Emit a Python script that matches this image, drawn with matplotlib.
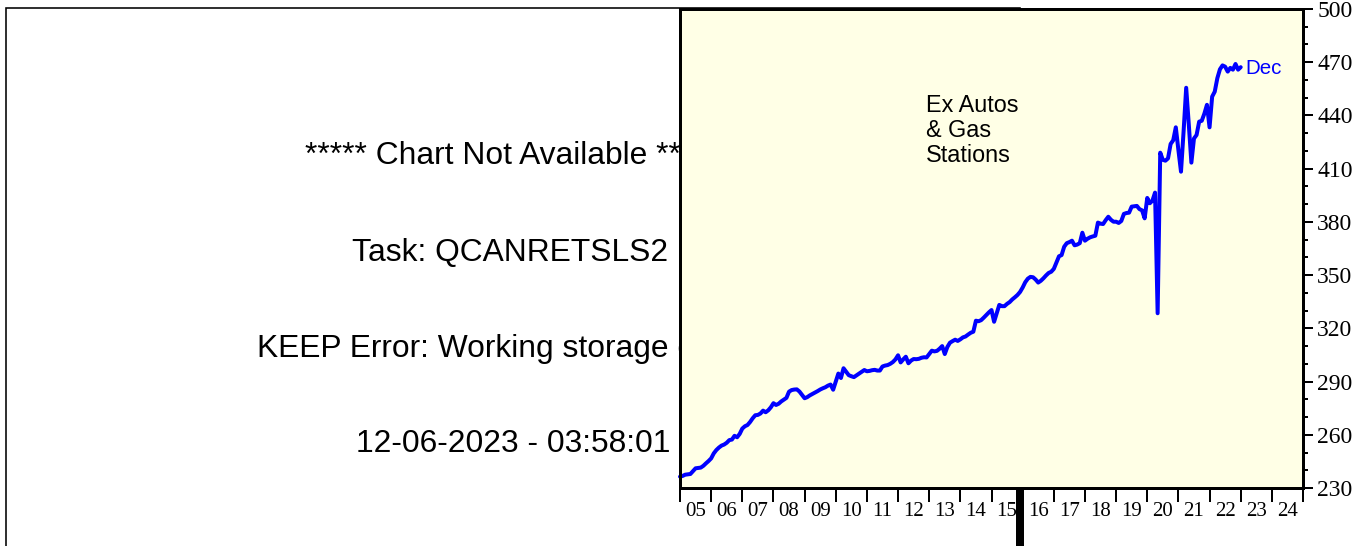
import matplotlib
matplotlib.use("Agg")
import matplotlib.pyplot as plt
from matplotlib.patches import Rectangle
from matplotlib.ticker import FixedLocator, NullFormatter, FixedFormatter

# ---------------- data (monthly, plotted at month end) ----------------
first_year = 2005
dec_2004 = 236.4
v2005 = [236.8, 237.5, 237.7, 237.9, 239.5, 241.1, 241.3, 241.5, 242.5, 243.9, 245.2, 246.7]
v2006 = [249.5, 251.4, 252.8, 253.9, 254.5, 255.5, 257.0, 257.3, 259.4, 258.6, 260.5, 263.5]
v2007 = [264.8, 265.5, 267.2, 269.3, 271.0, 271.2, 272.0, 273.6, 272.7, 273.8, 275.5, 277.8]
v2008 = [276.8, 277.5, 278.8, 279.8, 280.8, 284.3, 285.2, 285.5, 285.6, 284.4, 282.5, 280.6]
v2009 = [281.2, 282.2, 283.0, 283.8, 284.6, 285.5, 286.2, 286.8, 287.7, 288.3, 285.4, 290.0]
v2010 = [294.5, 292.0, 297.5, 295.5, 293.6, 293.0, 292.5, 293.5, 294.5, 295.5, 296.5, 295.8]
v2011 = [296.0, 296.4, 296.6, 296.2, 296.2, 298.5, 299.0, 299.3, 300.0, 301.0, 302.5, 304.8]
v2012 = [300.8, 302.5, 304.0, 300.3, 301.8, 302.7, 302.6, 302.8, 303.4, 303.7, 303.6, 305.5]
v2013 = [307.4, 307.0, 307.3, 308.5, 310.0, 305.5, 309.5, 311.9, 312.8, 313.6, 312.9, 313.8]
v2014 = [314.9, 315.4, 316.5, 317.5, 318.1, 324.3, 324.0, 324.6, 326.0, 327.5, 329.0, 330.3]
v2015 = [323.7, 328.5, 333.2, 332.5, 332.5, 333.8, 334.8, 336.3, 337.5, 338.8, 340.5, 343.0]
v2016 = [346.0, 348.0, 349.0, 348.8, 347.5, 345.8, 346.8, 348.2, 349.8, 351.2, 351.9, 353.5]
v2017 = [357.0, 360.6, 361.3, 366.0, 368.0, 368.6, 369.4, 366.8, 367.2, 368.0, 373.9, 369.4]
v2018 = [370.5, 371.3, 371.8, 372.2, 379.6, 379.0, 378.8, 381.0, 382.9, 381.2, 380.1, 380.1]
v2019 = [379.4, 380.5, 384.5, 385.0, 385.2, 388.6, 388.8, 389.0, 387.2, 386.5, 382.0, 393.5]
v2020 = [390.5, 392.0, 396.5, 328.5, 419.0, 415.0, 414.5, 415.8, 423.9, 426.0, 433.3, 420.5]
v2021 = [408.3, 431.0, 455.6, 435.0, 413.4, 427.0, 429.0, 436.5, 437.0, 441.0, 446.0, 433.3]
v2022 = [450.6, 453.4, 461.0, 466.0, 468.2, 467.5, 464.7, 466.8, 465.8, 469.0, 465.8, 467.2]

yearly = [v2005, v2006, v2007, v2008, v2009, v2010, v2011, v2012, v2013,
          v2014, v2015, v2016, v2017, v2018, v2019, v2020, v2021, v2022]

year_ticks = list(range(2005, 2026))
year_labels = ["05", "06", "07", "08", "09", "10", "11", "12", "13", "14",
               "15", "16", "17", "18", "19", "20", "21", "22", "23", "24"]
y_major = [230, 260, 290, 320, 350, 380, 410, 440, 470, 500]
y_minor = list(range(230, 501, 10))

msg_lines = ["***** Chart Not Available *****",
             "Task: QCANRETSLS2",
             "KEEP Error: Working storage exceeded",
             "12-06-2023 - 03:58:01"]
note_text = "Ex Autos\n& Gas\nStations"
end_label = "Dec"

# build x/y (month-end positions)
xs = [float(first_year)]
ys = [dec_2004]
for j, vals in enumerate(yearly):
    for m, v in enumerate(vals):
        xs.append(first_year + j + (m + 1) / 12.0)
        ys.append(v)

# ---------------- figure ----------------
W, H = 1371, 546
fig = plt.figure(figsize=(W / 100, H / 100), dpi=100)
fig.patch.set_facecolor("white")

px = 0.72  # points per pixel at dpi 100

# outer frame (behind plot)
fig.add_artist(Rectangle((6 / W, -0.05), (1020 - 6) / W, (546 - 8) / H + 0.05,
                         transform=fig.transFigure, facecolor="none",
                         edgecolor="black", linewidth=1.6 * px, zorder=-2))

# message text (behind plot), anchored at its left edge
msg_x = [305, 352, 257, 356]
msg_y = [156, 253, 349, 444]
for txt, xx, yy in zip(msg_lines, msg_x, msg_y):
    fig.text(xx / W, 1 - yy / H, txt, ha="left", va="center",
             fontsize=22.9, family="Liberation Sans", color="black", zorder=-1)

ax = fig.add_axes([680 / W, (546 - 488) / H, 623 / W, 479 / H])
ax.set_facecolor("#FFFFE6")
ax.plot(xs, ys, color="#0000FF", linewidth=4.0 * px, solid_joinstyle="round",
        solid_capstyle="round", clip_on=False)

ax.set_xlim(2005, 2025)
ax.set_ylim(230, 500)

for s in ax.spines.values():
    s.set_linewidth(3 * px)
    s.set_color("black")

# x axis: year boundary ticks, labels centered in each year
ax.xaxis.set_major_locator(FixedLocator(year_ticks))
ax.xaxis.set_major_formatter(NullFormatter())
ax.xaxis.set_minor_locator(FixedLocator([y + 0.5 for y in year_ticks[:-1]]))
ax.xaxis.set_minor_formatter(FixedFormatter(year_labels))
ax.tick_params(axis="x", which="major", direction="out", length=14 * px,
               width=2 * px, color="black")
ax.tick_params(axis="x", which="minor", length=0, pad=10.2,
               labelsize=15, labelcolor="black")
for lab in ax.xaxis.get_minorticklabels():
    lab.set_family("Liberation Serif")

# y axis on right
ax.yaxis.tick_right()
ax.yaxis.set_major_locator(FixedLocator(y_major))
ax.yaxis.set_minor_locator(FixedLocator(y_minor))
ax.tick_params(axis="y", which="major", direction="out", length=10 * px,
               width=2 * px, pad=3, labelsize=17, right=True, left=False)
ax.tick_params(axis="y", which="minor", direction="out", length=5 * px,
               width=2 * px, right=True, left=False)
for lab in ax.yaxis.get_majorticklabels():
    lab.set_family("Liberation Serif")

# annotations
ax.text((926 - 680) / 623, (488 - 94) / 479, note_text, transform=ax.transAxes,
        ha="left", va="top", fontsize=16.8, family="Liberation Sans",
        linespacing=1.1, color="black")
ax.annotate(end_label, xy=(xs[-1], ys[-1]), xytext=(3.6, -1.2),
            textcoords="offset points", ha="left", va="center",
            fontsize=14.8, family="Liberation Sans", color="#0000FF")

# thick black bar at bottom
fig.add_artist(Rectangle((1016 / W, 0), 8 / W, (546 - 490) / H,
                         transform=fig.transFigure, facecolor="black",
                         edgecolor="none", zorder=5))

fig.savefig("out.png", dpi=100, facecolor="white")
